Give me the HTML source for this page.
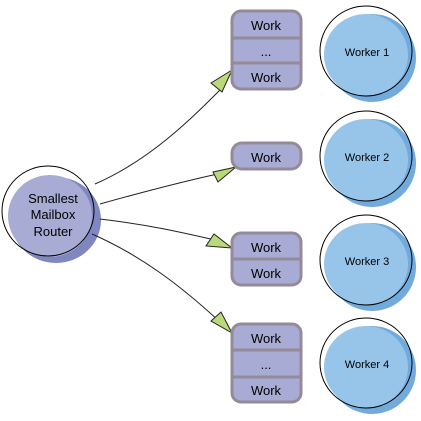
<!DOCTYPE html>
<html><head><meta charset="utf-8"><style>html,body{margin:0;padding:0;background:#fff}</style></head><body>
<svg width="421" height="416" viewBox="0 0 421 416" xmlns="http://www.w3.org/2000/svg" font-family="Liberation Sans, sans-serif">
<defs>
<g id="wk">
<ellipse cx="6" cy="6" rx="44" ry="44" fill="#72aadc"/>
<ellipse cx="0" cy="3" rx="42" ry="41" fill="#97c5ea"/>
<ellipse cx="0" cy="-1" rx="46" ry="45" fill="none" stroke="#000" stroke-width="1"/>
</g>
</defs>
<ellipse cx="56" cy="220" rx="45" ry="43" fill="#7f86c0"/>
<ellipse cx="50" cy="216" rx="42" ry="41" fill="#a8acd4"/>
<ellipse cx="48" cy="211" rx="46" ry="45" fill="none" stroke="#000"/>
<g font-size="13" text-anchor="middle" fill="#000">
<text x="53" y="203">Smallest</text>
<text x="53" y="219">Mailbox</text>
<text x="53" y="236">Router</text>
</g>
<g fill="none" stroke="#222" stroke-width="1">
<path d="M95 184 C150 160 190 120 222 88"/>
<path d="M100 204 C150 190 190 180 222 173"/>
<path d="M100 219 C150 225 180 232 215 240"/>
<path d="M92 234 C140 255 180 285 220 322"/>
</g>
<g fill="#b9d97a" stroke="#222" stroke-width="1">
<polygon points="232,70 211,83 222,92"/>
<polygon points="236,167 213,172 218,182"/>
<polygon points="232,248 214,234 206,246"/>
<polygon points="232,333 221,312 211,321"/>
</g>
<g fill="#a8acd4" stroke="#958a98" stroke-width="3">
<rect x="232" y="11" width="69" height="78" rx="9"/>
<line x1="232" y1="38" x2="301" y2="38"/>
<line x1="232" y1="63" x2="301" y2="63"/>
<rect x="232" y="143" width="69" height="26" rx="10"/>
<rect x="232" y="233" width="69" height="52" rx="9"/>
<line x1="232" y1="259" x2="301" y2="259"/>
<rect x="232" y="324" width="69" height="78" rx="9"/>
<line x1="232" y1="350" x2="301" y2="350"/>
<line x1="232" y1="377" x2="301" y2="377"/>
</g>
<g font-size="13" text-anchor="middle" fill="#000">
<text x="266" y="30">Work</text>
<text x="266" y="56">...</text>
<text x="266" y="82">Work</text>
<text x="266" y="162">Work</text>
<text x="266" y="252">Work</text>
<text x="266" y="278">Work</text>
<text x="266" y="343">Work</text>
<text x="266" y="369">...</text>
<text x="266" y="395">Work</text>
</g>
<use href="#wk" x="366" y="52"/>
<use href="#wk" x="366" y="157"/>
<use href="#wk" x="366" y="261"/>
<use href="#wk" x="366" y="364"/>
<g font-size="11" text-anchor="middle" fill="#000">
<text x="367" y="56">Worker 1</text>
<text x="367" y="161">Worker 2</text>
<text x="367" y="265">Worker 3</text>
<text x="367" y="368">Worker 4</text>
</g>
</svg>
</body></html>
